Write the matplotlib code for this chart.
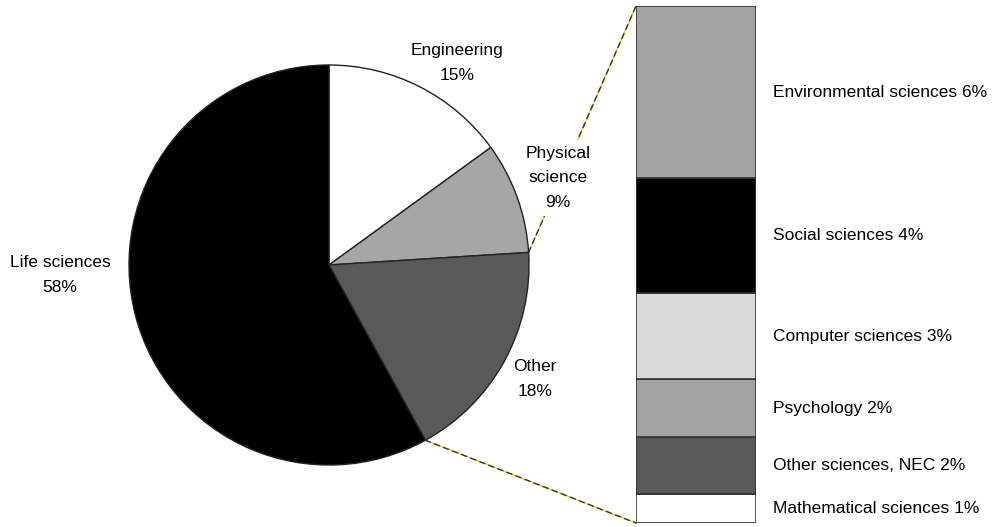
import numpy as np
import matplotlib
matplotlib.use("Agg")
import matplotlib.pyplot as plt
from matplotlib.patches import ConnectionPatch

plt.rcParams['font.family'] = ['Liberation Sans Narrow', 'Liberation Sans', 'DejaVu Sans']

# Main pie: share of the field totals
pie_labels = ["Engineering", "Physical\nscience", "Other", "Life sciences"]
pie_values = [15, 9, 18, 58]
pie_colors = ["#ffffff", "#a6a6a6", "#595959", "#000000"]

# Breakdown of "Other", stacked from the bottom
bar_labels = ["Mathematical sciences", "Other sciences, NEC", "Psychology",
              "Computer sciences", "Social sciences", "Environmental sciences"]
bar_values = [1, 2, 2, 3, 4, 6]
bar_colors = ["#ffffff", "#595959", "#a3a3a3", "#d9d9d9", "#000000", "#a3a3a3"]

W, H = 992, 527
fig = plt.figure(figsize=(W / 100, H / 100), dpi=100)

# Pie axes in pixel-like units
ax = fig.add_axes([0, 0, 1, 1])
center = (329, H - 265)
radius = 200
wedges, _ = ax.pie(pie_values, colors=pie_colors, startangle=90, counterclock=False,
                   center=center, radius=radius,
                   wedgeprops=dict(edgecolor="#222222", linewidth=1.0, zorder=2))
ax.set_xlim(0, W)
ax.set_ylim(0, H)
ax.set_aspect('auto')
ax.axis('off')

fs = 12.5
label_pos = [(457, 63), (558, 178), (535, 379), (60, 275)]
for lab, val, (lx, ly) in zip(pie_labels, pie_values, label_pos):
    ax.text(lx, H - ly, f"{lab}\n{val}%", ha="center", va="center",
            fontsize=fs, linespacing=1.8, color="#000000", zorder=1.5,
            bbox=dict(facecolor="white", edgecolor="none", pad=4))

# Stacked bar for the breakdown
bx = fig.add_axes([636 / W, (H - 523) / H, 120 / W, 517 / H])
bottoms = np.concatenate([[0], np.cumsum(bar_values)[:-1]])
bx.bar([0] * len(bar_values), bar_values, bottom=bottoms, width=1.0,
       color=bar_colors, edgecolor="#333333", linewidth=1.2, align="center")
bx.set_xlim(-0.5, 0.5)
bx.set_ylim(0, sum(bar_values))
bx.axis('off')
for lab, val, b in zip(bar_labels, bar_values, bottoms):
    bx.text(1.14, b + val / 2, f"{lab} {val}%", transform=bx.get_yaxis_transform(),
            ha="left", va="center", fontsize=fs, color="#000000")

# Connector lines from the "Other" wedge to the bar
other_idx = 2
theta1 = np.deg2rad(wedges[other_idx].theta1)
theta2 = np.deg2rad(wedges[other_idx].theta2)
pts = []
for th in (theta2, theta1):
    pts.append((center[0] + radius * np.cos(th), center[1] + radius * np.sin(th)))
targets = [(0, 1), (0, 0)]
for p, t in zip(pts, targets):
    for col, ls in (("#f2d21b", "-"), ("#333333", (0, (4, 3)))):
        con = ConnectionPatch(xyA=p, coordsA=ax.transData, xyB=t, coordsB=bx.transAxes,
                              color=col, linewidth=1.0, linestyle=ls, zorder=1,
                              clip_on=False)
        ax.add_artist(con)

fig.savefig("out.png", dpi=100)
